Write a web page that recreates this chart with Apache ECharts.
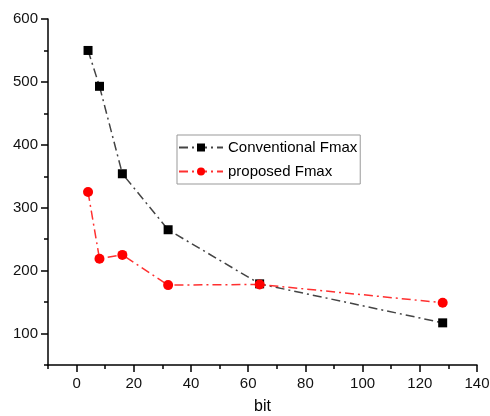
<!DOCTYPE html>
<html>
<head>
<meta charset="utf-8">
<script src="https://cdn.jsdelivr.net/npm/echarts@6/dist/echarts.min.js"></script>
<style>
  html, body { margin: 0; padding: 0; background: #fff; }
  #chart { width: 490px; height: 416px; }
</style>
</head>
<body>
<div id="chart"></div>
<script>
  // data
  var bits = [4, 8, 16, 32, 64, 128]
  var conventional = [550, 493, 354, 265, 179, 117]
  var proposed = [325, 219, 225, 177, 178, 149]
  var xLabels = [0, 20, 40, 60, 80, 100, 120, 140]
  var yLabels = [100, 200, 300, 400, 500, 600]

  function pairs (xs, ys) {
    var out = []
    for (var i = 0; i < xs.length; i++) out.push([xs[i], ys[i]])
    return out
  }

  var font = 'Liberation Sans, Arial, sans-serif'
  var chart = echarts.init(document.getElementById('chart'))
  chart.setOption({
    animation: false,
    grid: { left: 48, right: 13, top: 19, bottom: 51, outerBoundsMode: 'none' },
    legend: {
      left: 177,
      top: 135,
      orient: 'vertical',
      itemWidth: 44,
      itemHeight: 10,
      itemGap: 9,
      padding: [5, 3, 5, 1],
      borderColor: '#999',
      borderWidth: 1,
      textStyle: { fontFamily: font, fontSize: 15, color: '#000' },
      data: ['Conventional Fmax', 'proposed Fmax']
    },
    xAxis: [
      {
        type: 'value',
        min: -10,
        max: 140,
        name: 'bit',
        nameLocation: 'middle',
        nameGap: 34,
        nameTextStyle: { fontFamily: font, fontSize: 16, color: '#000' },
        splitLine: { show: false },
        axisLine: { onZero: false, lineStyle: { color: '#000', width: 1.5 } },
        axisTick: { customValues: xLabels, length: 7, lineStyle: { color: '#000', width: 1.5 } },
        axisLabel: { customValues: xLabels, fontFamily: font, fontSize: 15, color: '#111', margin: 11 }
      },
      {
        type: 'value',
        position: 'bottom',
        min: -10,
        max: 140,
        interval: 10,
        splitLine: { show: false },
        axisLine: { show: false, onZero: false },
        axisTick: { length: 4, lineStyle: { color: '#000', width: 1.5 } },
        axisLabel: { show: false }
      }
    ],
    yAxis: [
      {
        type: 'value',
        min: 50,
        max: 600,
        splitLine: { show: false },
        axisLine: { show: true, onZero: false, lineStyle: { color: '#000', width: 1.5 } },
        axisTick: { show: true, customValues: yLabels, length: 7, lineStyle: { color: '#000', width: 1.5 } },
        axisLabel: { customValues: yLabels, fontFamily: font, fontSize: 15, color: '#111', margin: 10 }
      },
      {
        type: 'value',
        position: 'left',
        min: 50,
        max: 600,
        interval: 50,
        splitLine: { show: false },
        axisLine: { show: false, onZero: false },
        axisTick: { show: true, length: 4, lineStyle: { color: '#000', width: 1.5 } },
        axisLabel: { show: false }
      }
    ],
    series: [
      {
        name: 'Conventional Fmax',
        type: 'line',
        data: pairs(bits, conventional),
        symbol: 'rect',
        symbolSize: 9,
        itemStyle: { color: '#000' },
        lineStyle: { color: '#444', width: 1.5, type: [9, 4, 2, 4] }
      },
      {
        name: 'proposed Fmax',
        type: 'line',
        data: pairs(bits, proposed),
        symbol: 'circle',
        symbolSize: 10,
        itemStyle: { color: '#ff0000' },
        lineStyle: { color: '#ff3030', width: 1.5, type: [9, 4, 2, 4] }
      }
    ]
  })
</script>
</body>
</html>
